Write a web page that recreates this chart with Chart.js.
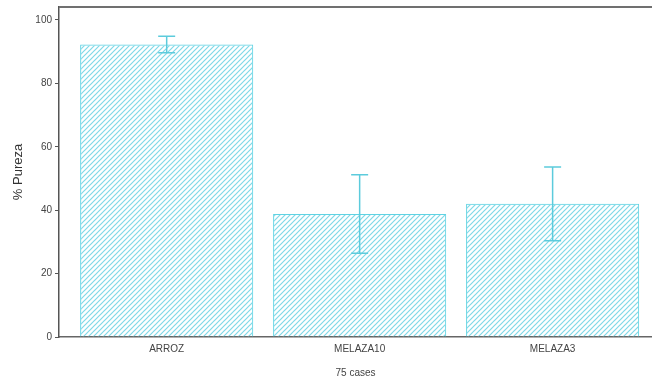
<!DOCTYPE html>
<html>
<head>
<meta charset="utf-8">
<script src="https://cdn.jsdelivr.net/npm/chart.js@4/dist/chart.umd.min.js"></script>
<style>
    html, body { margin: 0; padding: 0; background: #fff; }
    #wrap { width: 652px; height: 379px; }
</style>
</head>
<body>
<div id="wrap"><canvas id="pureza"></canvas></div>
<script>
// data
const categories = ['ARROZ', 'MELAZA10', 'MELAZA3'];
const means = [92.3, 38.8, 42.0];
const errors = [2.6, 12.4, 11.6];
const yTicks = [0, 20, 40, 60, 80, 100];

// diagonal hatch used as the bar fill
function hatch() {
    let c = document.createElement('canvas');
    c.width = 5;
    c.height = 5;
    let g = c.getContext('2d');
    g.strokeStyle = '#7fd9e8';
    g.lineWidth = 1.2;
    g.beginPath();
    g.moveTo(-1, 6); g.lineTo(6, -1);
    g.moveTo(-1, 1); g.lineTo(1, -1);
    g.moveTo(4, 6); g.lineTo(6, 4);
    g.stroke();
    return g.createPattern(c, 'repeat');
}

const errorBars = {
    id: 'errorBars',
    afterDatasetsDraw(chart) {
        let ctx = chart.ctx;
        let xs = chart.scales.x, ys = chart.scales.y;
        ctx.save();
        ctx.strokeStyle = '#5ccbdc';
        ctx.lineWidth = 1.5;
        means.forEach((m, i) => {
            let x = xs.getPixelForValue(i);
            let hi = ys.getPixelForValue(m + errors[i]);
            let lo = ys.getPixelForValue(m - errors[i]);
            ctx.beginPath();
            ctx.moveTo(x, hi); ctx.lineTo(x, lo);
            ctx.moveTo(x - 8.5, hi); ctx.lineTo(x + 8.5, hi);
            ctx.moveTo(x - 8.5, lo); ctx.lineTo(x + 8.5, lo);
            ctx.stroke();
        });
        ctx.restore();
    }
};

const topFrame = {
    id: 'topFrame',
    afterDraw(chart) {
        let a = chart.chartArea;
        let ctx = chart.ctx;
        ctx.save();
        ctx.strokeStyle = '#707070';
        ctx.lineWidth = 2;
        ctx.beginPath();
        ctx.moveTo(a.left, a.top);
        ctx.lineTo(a.right, a.top);
        ctx.stroke();
        ctx.restore();
    }
};

new Chart(document.getElementById('pureza'), {
    type: 'bar',
    data: {
        datasets: [{
            data: categories.map((c, i) => ({x: i, y: means[i]})),
            backgroundColor: hatch(),
            borderColor: '#5fd3e3',
            borderWidth: 1,
            categoryPercentage: 1,
            barPercentage: 0.897
        }]
    },
    plugins: [errorBars, topFrame],
    options: {
        responsive: true,
        maintainAspectRatio: false,
        animation: false,
        layout: {padding: {top: 0, right: 0, left: 0, bottom: 0}},
        plugins: {
            legend: {display: false},
            tooltip: {enabled: false}
        },
        scales: {
            x: {
                type: 'linear',
                offset: false,
                min: -0.558,
                max: 2.515,
                afterBuildTicks: (s) => { s.ticks = categories.map((c, i) => ({value: i})); },
                afterFit: (s) => { s.height = 42; },
                grid: {drawOnChartArea: false, drawTicks: false},
                border: {color: '#666', width: 1.5},
                ticks: {
                    callback: (v) => categories[v],
                    color: '#444',
                    font: {family: 'Arial, "Liberation Sans"', size: 10},
                    padding: 6,
                    maxRotation: 0
                },
                title: {
                    display: true,
                    text: '75 cases',
                    color: '#444',
                    font: {family: 'Arial, "Liberation Sans"', size: 10},
                    padding: {top: 0, bottom: 0}
                }
            },
            y: {
                min: 0,
                max: 104.1,
                afterBuildTicks: (s) => { s.ticks = yTicks.map((v) => ({value: v})); },
                afterFit: (s) => { s.width = 59; },
                grid: {drawOnChartArea: false, tickLength: 4, tickColor: '#555'},
                border: {color: '#555', width: 1.5},
                ticks: {
                    color: '#444',
                    font: {family: 'Arial, "Liberation Sans"', size: 10, lineHeight: 0.8},
                    padding: 3
                },
                title: {
                    display: true,
                    text: '% Pureza',
                    color: '#333',
                    font: {family: 'Arial, "Liberation Sans"', size: 13},
                    padding: {top: 11, bottom: 0}
                }
            }
        }
    }
});
</script>
</body>
</html>
